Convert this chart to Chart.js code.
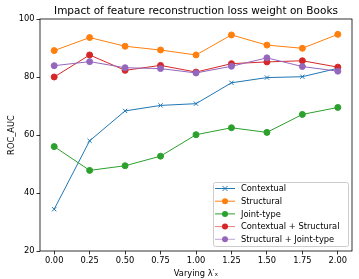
<!DOCTYPE html>
<html>
<head>
<meta charset="utf-8">
<script src="https://cdn.jsdelivr.net/npm/chart.js@4"></script>
<style>
  html, body { margin: 0; padding: 0; background: #fff; }
  #wrap { width: 359px; height: 279px; }
</style>
</head>
<body>
<div id="wrap"><canvas id="chart" width="359" height="279"></canvas></div>
<script>
// x values (lambda) and tick labels
const lambdas = [0, 0.25, 0.5, 0.75, 1.0, 1.25, 1.5, 1.75, 2.0];
const yTicks = [20, 40, 60, 80, 100];

// series
const contextual = [34.4, 58.0, 68.3, 70.2, 70.8, 78.0, 79.8, 80.1, 83.0];
const structural = [89.1, 93.6, 90.6, 89.3, 87.6, 94.5, 91.0, 89.9, 94.7];
const jointType = [56.0, 47.8, 49.4, 52.7, 60.1, 62.5, 60.9, 67.1, 69.5];
const ctxStruct = [80.0, 87.6, 82.3, 84.0, 81.7, 84.6, 85.2, 85.6, 83.4];
const structJoint = [83.9, 85.3, 83.2, 82.9, 81.4, 83.7, 86.6, 83.6, 82.0];

const names = ['Contextual', 'Structural', 'Joint-type', 'Contextual + Structural', 'Structural + Joint-type'];
const colors = ['#1f77b4', '#ff7f0e', '#2ca02c', '#d62728', '#9467bd'];
const series = [contextual, structural, jointType, ctxStruct, structJoint];
const titleText = 'Impact of feature reconstruction loss weight on Books';

const FONT = 'DejaVu Sans';
const SMALL = 8.3;

// box around the plot, like matplotlib spines, and the title centred over it
const frame = {
    id: 'frame',
    afterDatasetsDraw(chart) {
        const a = chart.chartArea;
        const c = chart.ctx;
        c.save();
        c.strokeStyle = '#000';
        c.lineWidth = 0.8;
        c.strokeRect(a.left, a.top, a.right - a.left, a.bottom - a.top);
        c.fillStyle = '#000';
        c.font = '10.5px "' + FONT + '"';
        c.textAlign = 'center';
        c.textBaseline = 'middle';
        c.fillText(titleText, (a.left + a.right) / 2, 11);
        c.restore();
    }
};

// legend box in the lower right corner of the plot
const cornerLegend = {
    id: 'cornerLegend',
    afterDraw(chart) {
        const a = chart.chartArea;
        const c = chart.ctx;
        const rowH = 12.7;
        const w = 135, h = 64;
        const x0 = a.right - 4 - w, y0 = a.bottom - 5 - h;
        c.save();
        c.fillStyle = 'rgba(255,255,255,0.8)';
        c.strokeStyle = '#cccccc';
        c.lineWidth = 1;
        c.beginPath();
        c.roundRect(x0 + 0.5, y0 + 0.5, w, h, 2);
        c.fill();
        c.stroke();
        c.font = SMALL + 'px "' + FONT + '"';
        c.textBaseline = 'middle';
        names.forEach((n, i) => {
            const y = y0 + 6.5 + i * rowH;
            c.strokeStyle = colors[i];
            c.globalAlpha = i >= 3 ? 0.6 : 1;
            c.lineWidth = 1;
            c.beginPath();
            c.moveTo(x0 + 2, y);
            c.lineTo(x0 + 22, y);
            c.stroke();
            c.globalAlpha = 1;
            if (i === 0) {
                c.beginPath();
                c.moveTo(x0 + 9.5, y - 2.5); c.lineTo(x0 + 14.5, y + 2.5);
                c.moveTo(x0 + 9.5, y + 2.5); c.lineTo(x0 + 14.5, y - 2.5);
                c.stroke();
            } else {
                c.fillStyle = colors[i];
                c.beginPath();
                c.arc(x0 + 12, y, 3, 0, Math.PI * 2);
                c.fill();
            }
            c.fillStyle = '#000';
            c.fillText(n, x0 + 28, y + 0.5);
        });
        c.restore();
    }
};

const ctx = document.getElementById('chart').getContext('2d');

const myChart = new Chart(ctx, {
    type: 'line',
    data: {
        datasets: series.map((s, i) => ({
            label: names[i],
            data: s.map((v, j) => ({ x: lambdas[j], y: v })),
            borderColor: colors[i],
            backgroundColor: colors[i],
            borderWidth: 1,
            pointStyle: i === 0 ? 'crossRot' : 'circle',
            pointRadius: 3,
            pointBorderWidth: 1,
            pointBorderColor: colors[i],
            tension: 0,
            fill: false,
            order: 5 - i
        }))
    },
    options: {
        responsive: false,
        animation: false,
        layout: { padding: { right: 7, left: 0, top: 19, bottom: 0 } },
        plugins: {
            legend: { display: false },
            tooltip: { enabled: false },
            title: { display: false }
        },
        scales: {
            x: {
                type: 'linear',
                min: -0.1,
                max: 2.1,
                afterBuildTicks: (scale) => { scale.ticks = lambdas.map(v => ({ value: v })); },
                afterFit: (scale) => { scale.height = 28; },
                grid: { display: true, drawOnChartArea: false, drawTicks: true, tickLength: 3.5, color: '#000', tickWidth: 0.8 },
                border: { display: false },
                ticks: {
                    color: '#000',
                    padding: 1.5,
                    maxRotation: 0,
                    autoSkip: false,
                    font: { family: FONT, size: SMALL },
                    callback: (v) => Number(v).toFixed(2)
                },
                title: {
                    display: true,
                    text: "Varying λ′ₓ",
                    color: '#000',
                    font: { family: FONT, size: SMALL },
                    padding: { top: 1, bottom: 0 }
                }
            },
            y: {
                min: 20,
                max: 100,
                afterBuildTicks: (scale) => { scale.ticks = yTicks.map(v => ({ value: v })); },
                afterFit: (scale) => { scale.width = 40; },
                grid: { display: true, drawOnChartArea: false, drawTicks: true, tickLength: 3.5, color: '#000', tickWidth: 0.8 },
                border: { display: false },
                ticks: {
                    color: '#000',
                    padding: 2,
                    font: { family: FONT, size: SMALL }
                },
                title: {
                    display: true,
                    text: 'ROC_AUC',
                    color: '#000',
                    font: { family: FONT, size: SMALL },
                    padding: { top: 7, bottom: 4 }
                }
            }
        }
    },
    plugins: [frame, cornerLegend]
});
</script>
</body>
</html>
